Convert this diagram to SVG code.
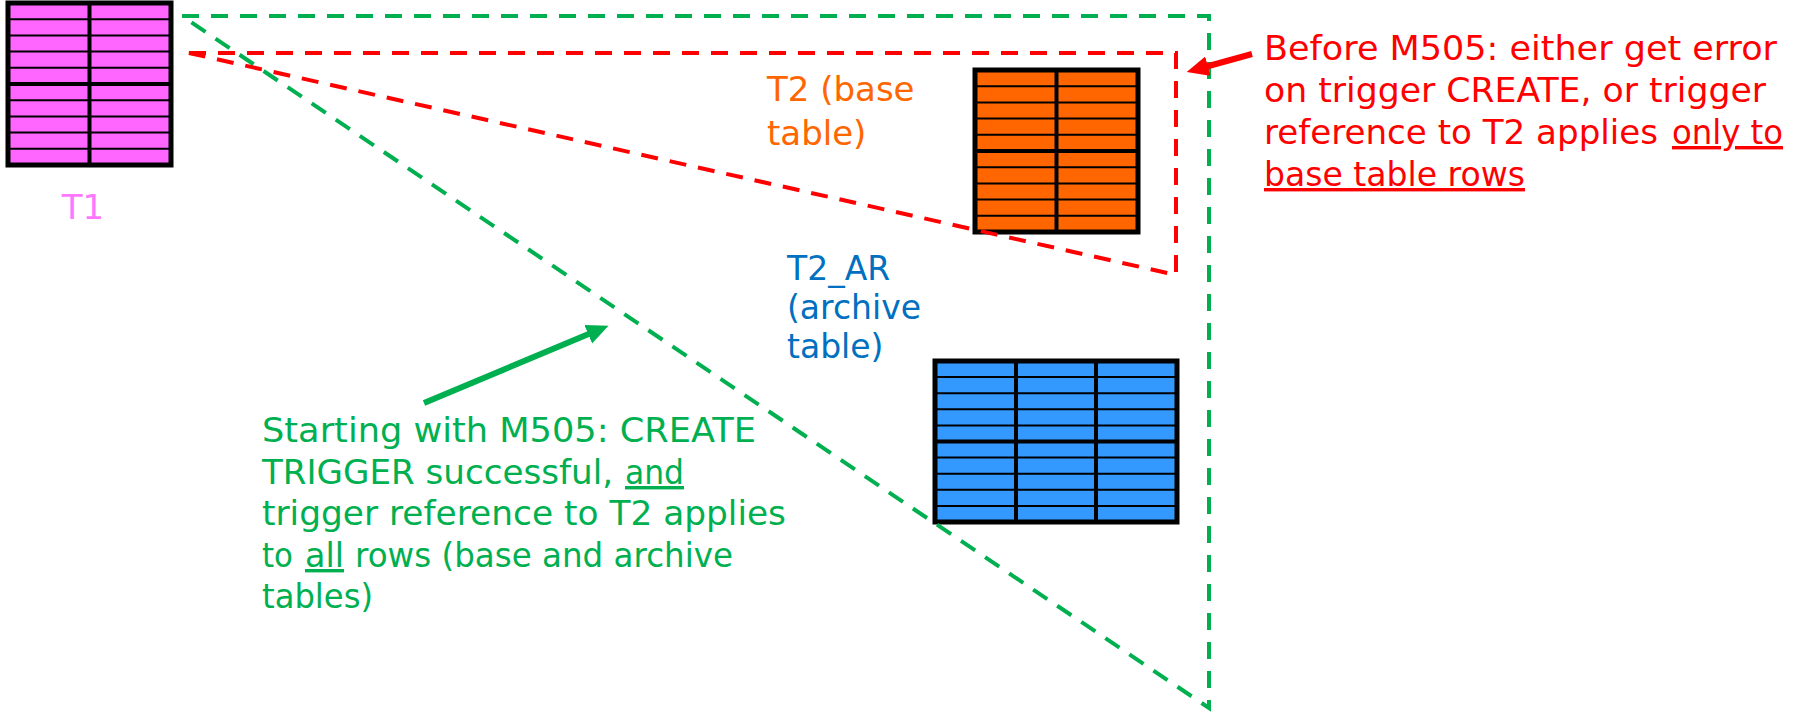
<svg xmlns="http://www.w3.org/2000/svg" xmlns:xlink="http://www.w3.org/1999/xlink" width="1800" height="712" viewBox="0 0 1800 712">
<style>
.row{fill:none;stroke:#000;stroke-width:2}
.div{fill:none;stroke:#000;stroke-width:4}
.frame{fill:none;stroke:#000;stroke-width:5}
.txt{font-family:"DejaVu Sans",sans-serif;font-size:34px}
.sm{font-size:33px}
.dg{fill:none;stroke:#00B050;stroke-width:4;stroke-dasharray:17 12}
.dr{fill:none;stroke:#FF0000;stroke-width:4;stroke-dasharray:17 12}
.u{text-decoration:underline}
</style>
<defs>
<g id="grid2">
<rect width="163" height="162"/>
<path class="row" d="M0 16.2H163M0 32.4H163M0 48.6H163M0 64.8H163M0 97.2H163M0 113.4H163M0 129.6H163M0 145.8H163"/>
<path class="div" d="M81.5 0V162M0 81H163"/>
<rect class="frame" width="163" height="162"/>
</g>
<g id="grid3">
<rect width="242" height="161"/>
<path class="row" d="M0 16.1H242M0 32.2H242M0 48.3H242M0 64.4H242M0 96.6H242M0 112.7H242M0 128.8H242M0 144.9H242"/>
<path class="div" d="M81 0V161M161 0V161M0 80.5H242"/>
<rect class="frame" width="242" height="161"/>
</g>
<marker id="ag" markerUnits="userSpaceOnUse" markerWidth="24" markerHeight="22" refX="3" refY="10" orient="auto">
<path d="M0 0L22 10L0 20z" fill="#00B050"/>
</marker>
<marker id="ar" markerUnits="userSpaceOnUse" markerWidth="24" markerHeight="22" refX="3" refY="10" orient="auto">
<path d="M0 0L22 10L0 20z" fill="#FF0000"/>
</marker>
</defs>

<g id="T1">
<use xlink:href="#grid2" x="8" y="3" fill="#FF66FF"/>
<text class="txt" x="83" y="219" text-anchor="middle" fill="#FF77FF">T1</text>
</g>

<g id="T2">
<use xlink:href="#grid2" x="975" y="70" fill="#FF6600"/>
<text class="txt" fill="#FF6600" x="767" y="101">T2 (base</text>
<text class="txt" fill="#FF6600" x="767" y="145">table)</text>
</g>

<g id="T2_AR">
<use xlink:href="#grid3" x="935" y="361" fill="#3399FF"/>
<text class="txt sm" fill="#0070C0" x="787" y="280">T2_AR</text>
<text class="txt sm" fill="#0070C0" x="787" y="319">(archive</text>
<text class="txt sm" fill="#0070C0" x="787" y="358">table)</text>
</g>

<g id="connectors">
<path class="dg" d="M182 16H1209V708Z"/>
<path class="dr" d="M189 53H1176V275Z"/>
<line x1="424" y1="403" x2="591" y2="333" stroke="#00B050" stroke-width="6" marker-end="url(#ag)"/>
<line x1="1252" y1="54" x2="1205" y2="67" stroke="#FF0000" stroke-width="6" marker-end="url(#ar)"/>
</g>

<g id="note-red" class="txt" fill="#FF0000">
<text x="1264" y="60" textLength="513" lengthAdjust="spacingAndGlyphs">Before M505: either get error</text>
<text x="1264" y="102" textLength="502" lengthAdjust="spacingAndGlyphs">on trigger CREATE, or trigger</text>
<text x="1264" y="144"><tspan textLength="394" lengthAdjust="spacingAndGlyphs">reference to T2 applies</tspan><tspan class="u" x="1672" textLength="111" lengthAdjust="spacingAndGlyphs">only to</tspan></text>
<text x="1264" y="186" class="u" textLength="261" lengthAdjust="spacingAndGlyphs">base table rows</text>
</g>

<g id="note-green" class="txt" fill="#00B050">
<text x="262" y="442" textLength="494" lengthAdjust="spacingAndGlyphs">Starting with M505: CREATE</text>
<text x="262" y="484"><tspan textLength="351" lengthAdjust="spacingAndGlyphs">TRIGGER successful,</tspan><tspan class="u" x="625" textLength="59" lengthAdjust="spacingAndGlyphs">and</tspan></text>
<text x="262" y="525" textLength="524" lengthAdjust="spacingAndGlyphs">trigger reference to T2 applies</text>
<text x="262" y="567"><tspan textLength="31" lengthAdjust="spacingAndGlyphs">to</tspan><tspan class="u" x="305" textLength="39" lengthAdjust="spacingAndGlyphs">all</tspan><tspan x="355" textLength="378" lengthAdjust="spacingAndGlyphs">rows (base and archive</tspan></text>
<text x="262" y="608" textLength="111" lengthAdjust="spacingAndGlyphs">tables)</text>
</g>
</svg>
